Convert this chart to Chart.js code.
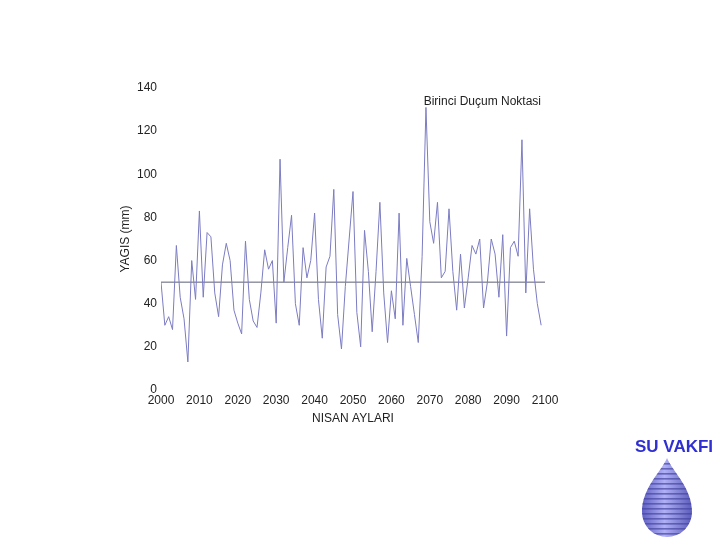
<!DOCTYPE html>
<html>
<head>
<meta charset="utf-8">
<script src="https://cdn.jsdelivr.net/npm/chart.js@4.4.1/dist/chart.umd.min.js"></script>
<style>
  html, body { margin: 0; padding: 0; background: #ffffff; }
  canvas { display: block; }
</style>
</head>
<body>
<canvas id="rainChart" width="720" height="540"></canvas>
<script>
// April precipitation (mm), 2000-2099
const years = [];
for (let y = 2000; y <= 2099; y++) years.push(y);

const rainfall = [
  50, 30, 34, 28, 67, 43, 33, 13, 60, 42,
  83, 43, 73, 71, 45, 34, 58, 68, 60, 37,
  31, 26, 69, 42, 32, 29, 45, 65, 56, 60,
  31, 107, 50, 66, 81, 40, 30, 66, 52, 60,
  82, 42, 24, 57, 62, 93, 35, 19, 48, 70,
  92, 36, 20, 74, 55, 27, 55, 87, 45, 22,
  46, 33, 82, 30, 61, 48, 35, 22, 62, 131,
  78, 68, 87, 52, 55, 84, 55, 37, 63, 38,
  52, 67, 63, 70, 38, 50, 70, 63, 43, 72,
  25, 66, 69, 62, 116, 45, 84, 56, 40, 30
];

// reference (mean) line
const meanYears = [2000, 2100];
const meanLevel = [50, 50];

const xTickLabels = ['2000', '2010', '2020', '2030', '2040', '2050', '2060', '2070', '2080', '2090', '2100'];
const yTickLabels = ['0', '20', '40', '60', '80', '100', '120', '140'];

const noteText = 'Birinci Duçum Noktasi';
const logoText = 'SU VAKFI';

const FONT = '"Liberation Sans", Arial, Helvetica, sans-serif';

// note inside the plot + water drop logo in the corner
const decorPlugin = {
  id: 'decor',
  afterDraw(chart) {
    const ctx = chart.ctx;
    const area = chart.chartArea;
    ctx.save();
    ctx.font = '12px ' + FONT;
    ctx.fillStyle = '#222222';
    ctx.textAlign = 'right';
    ctx.textBaseline = 'middle';
    ctx.fillText(noteText, area.right - 4, chart.scales.y.getPixelForValue(133.5));

    ctx.font = 'bold 17px ' + FONT;
    ctx.fillStyle = '#2f2fd2';
    ctx.textAlign = 'center';
    ctx.fillText(logoText, 674, 447);

    // drop
    const cx = 667, cy = 512, r = 25, tipY = 458;
    ctx.beginPath();
    ctx.moveTo(cx, tipY);
    ctx.bezierCurveTo(cx + 6, tipY + 14, cx + r, cy - 24, cx + r, cy);
    ctx.arc(cx, cy, r, 0, Math.PI, false);
    ctx.bezierCurveTo(cx - r, cy - 24, cx - 6, tipY + 14, cx, tipY);
    ctx.closePath();
    ctx.clip();
    const g = ctx.createLinearGradient(cx - r, 0, cx + r, 0);
    g.addColorStop(0, '#6060c4');
    g.addColorStop(0.45, '#b0b0f6');
    g.addColorStop(1, '#5c5cbc');
    ctx.fillStyle = g;
    ctx.fillRect(cx - r, tipY, 2 * r, cy + r - tipY + 2);
    ctx.fillStyle = 'rgba(70, 70, 160, 0.7)';
    for (let yy = tipY + 5; yy < cy + r; yy += 5) {
      ctx.fillRect(cx - r, yy, 2 * r, 1.6);
    }
    ctx.restore();
  }
};

const ctx = document.getElementById('rainChart').getContext('2d');

new Chart(ctx, {
  type: 'line',
  plugins: [decorPlugin],
  data: {
    datasets: [
      {
        label: 'Yagis',
        data: years.map((y, i) => ({ x: y, y: rainfall[i] })),
        borderColor: '#7c7cc2',
        borderWidth: 1,
        pointRadius: 0,
        tension: 0,
        fill: false
      },
      {
        label: 'Ortalama',
        data: meanYears.map((y, i) => ({ x: y, y: meanLevel[i] })),
        borderColor: '#5a5e74',
        borderWidth: 1,
        pointRadius: 0,
        fill: false
      }
    ]
  },
  options: {
    responsive: false,
    animation: false,
    layout: { padding: { left: 118, top: 88, right: 175, bottom: 114 } },
    plugins: {
      legend: { display: false },
      tooltip: { enabled: false }
    },
    scales: {
      x: {
        type: 'linear',
        min: 2000,
        max: 2100,
        border: { display: false },
        grid: { display: false, drawTicks: false, tickLength: 0 },
        afterBuildTicks: (s) => { s.ticks = xTickLabels.map(v => ({ value: Number(v) })); },
        afterFit: (s) => { s.height = 36; },
        ticks: {
          color: '#222222',
          padding: 3,
          maxRotation: 0,
          font: { family: FONT, size: 12 },
          callback: (v) => String(v)
        },
        title: {
          display: true,
          text: 'NISAN AYLARI',
          color: '#222222',
          padding: 0,
          font: { family: FONT, size: 12 }
        }
      },
      y: {
        min: 0,
        max: 140,
        border: { display: false },
        grid: { display: false, drawTicks: false, tickLength: 0 },
        afterBuildTicks: (s) => { s.ticks = yTickLabels.map(v => ({ value: Number(v) })); },
        afterFit: (s) => { s.width = 43; },
        ticks: {
          color: '#222222',
          padding: 4,
          font: { family: FONT, size: 12 },
          callback: (v) => String(v)
        },
        title: {
          display: true,
          text: 'YAGIS (mm)',
          color: '#222222',
          padding: 0,
          font: { family: FONT, size: 12 }
        }
      }
    }
  }
});
</script>
</body>
</html>
